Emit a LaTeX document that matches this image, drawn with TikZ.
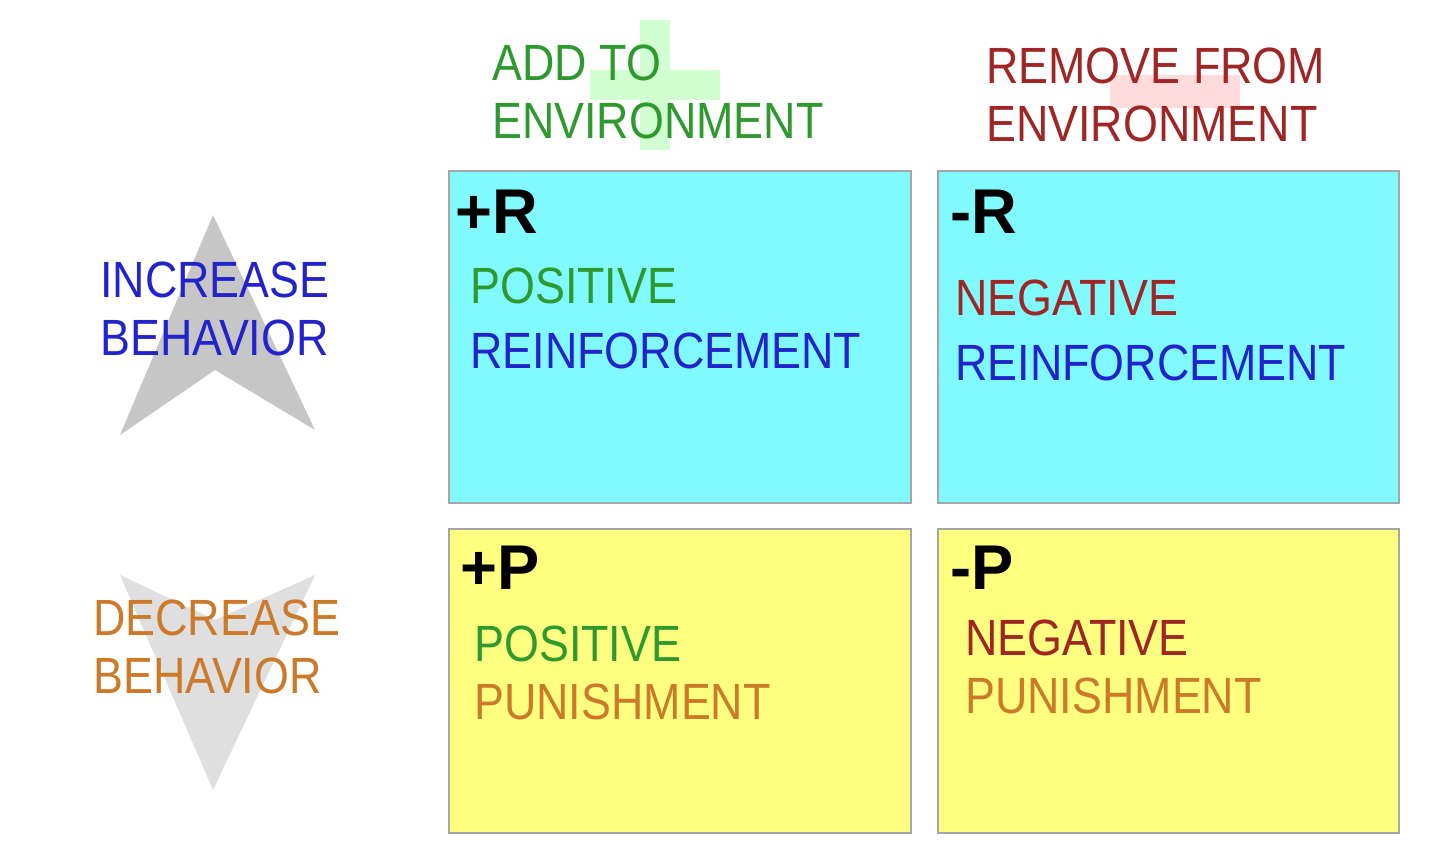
\documentclass[tikz,border=0pt]{standalone}
\usepackage{fontspec}
\setmainfont{Liberation Sans}
\definecolor{tgreen}{HTML}{2E9A2E}
\definecolor{tblue}{HTML}{2323CC}
\definecolor{tred}{HTML}{A02525}
\definecolor{torange}{HTML}{CC7A2A}
\definecolor{cyanbox}{HTML}{80FAFF}
\definecolor{yelbox}{HTML}{FFFF80}
\begin{document}
\begin{tikzpicture}[x=0.02cm,y=-0.02cm,
  lbl/.style={anchor=north west,inner sep=0pt,xscale=0.88,align=left,font=\fontsize{29}{33}\selectfont},
  code/.style={anchor=north west,inner sep=0pt,font=\fontsize{36}{38}\selectfont\bfseries},
  cell/.style={draw=gray!70,line width=1.2pt}]
\useasboundingbox (0,0) rectangle (1440,864);
\fill[white] (0,0) rectangle (1440,864);
% faint decorations
\fill[green!50!white,opacity=0.35] (640,20) rectangle (670,150) (590,70) rectangle (720,100);
\fill[red!40!white,opacity=0.35] (1110,75) rectangle (1240,108);
\fill[gray!45] (213,215) -- (315,430) -- (215,370) -- (120,435) -- cycle;
\fill[gray!25] (120,575) -- (215,620) -- (315,575) -- (213,790) -- cycle;
% boxes
\node[cell,fill=cyanbox,minimum width=462*0.02cm,minimum height=332*0.02cm,anchor=north west] (pr) at (448,170) {};
\node[cell,fill=cyanbox,minimum width=461*0.02cm,minimum height=332*0.02cm,anchor=north west] (nr) at (937,170) {};
\node[cell,fill=yelbox,minimum width=462*0.02cm,minimum height=304*0.02cm,anchor=north west] (pp) at (448,528) {};
\node[cell,fill=yelbox,minimum width=461*0.02cm,minimum height=304*0.02cm,anchor=north west] (np) at (937,528) {};
% headings
\node[lbl,text=tgreen] (h1) at (492,45) {ADD TO\\ENVIRONMENT};
\node[lbl,text=tred] (h2) at (986,48) {REMOVE FROM\\ENVIRONMENT};
\node[lbl,text=tblue] (inc) at (100,262) {INCREASE\\BEHAVIOR};
\node[lbl,text=torange] (dec) at (93,600) {DECREASE\\BEHAVIOR};
% codes
\node[code] (c1) at (455,190) {+R};
\node[code] (c2) at (950,190) {-R};
\node[code] (c3) at (460,546) {+P};
\node[code] (c4) at (950,546) {-P};
% labels
\node[lbl] (t1) at (470,268) {\textcolor{tgreen}{POSITIVE}\\[4pt]\textcolor{tblue}{REINFORCEMENT}};
\node[lbl] (t2) at (955,280) {\textcolor{tred}{NEGATIVE}\\[4pt]\textcolor{tblue}{REINFORCEMENT}};
\node[lbl] (t3) at (474,626) {\textcolor{tgreen}{POSITIVE}\\\textcolor{torange}{PUNISHMENT}};
\node[lbl] (t4) at (965,620) {\textcolor{tred}{NEGATIVE}\\\textcolor{torange}{PUNISHMENT}};
\end{tikzpicture}
\end{document}
